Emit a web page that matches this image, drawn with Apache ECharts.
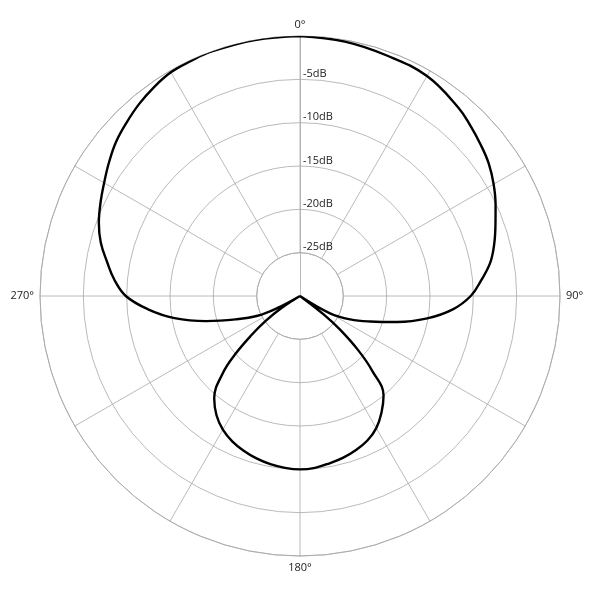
<!DOCTYPE html>
<html>
<head>
<meta charset="utf-8">
<script src="https://cdn.jsdelivr.net/npm/echarts@6/dist/echarts.min.js"></script>
<style>
  html, body { margin: 0; padding: 0; background: #fff; }
  #chart { width: 600px; height: 600px; }
</style>
</head>
<body>
<div id="chart"></div>
<script>
// polar response, angle clockwise from the front (0°), level in dB
const angles = [0, 10, 20, 30, 40, 45, 50, 55, 60, 65, 70, 75, 80, 85, 90, 95, 100, 105, 110, 115, 120, 124,
  128, 130, 133, 136, 140, 145, 150, 155, 160, 165, 170, 175, 180, 185, 190, 195, 200, 205, 210, 215, 220,
  225, 228, 231, 234, 237, 239, 242, 245, 250, 255, 260, 265, 270, 275, 280, 285, 290, 295, 300, 305, 310,
  315, 320, 325, 330, 335, 340, 350, 360];
const levels = [0, -0.2, -0.5, -0.7, -1.6, -2.2, -2.8, -3.4, -4.2, -5.1, -6.0, -6.8, -7.7, -9.0, -10.3, -12.3,
  -15.1, -18.4, -21.4, -23.6, -26.0, -30,
  -26.5, -24.0, -20.8, -18.0, -15.0, -13.6, -12.4, -11.6, -11.1, -10.7, -10.4, -10.1, -10.0, -10.1, -10.3,
  -10.6, -11.0, -11.5, -12.2, -13.2, -14.6, -17.4, -19.9, -22.7, -25.1, -27.5, -30,
  -27.0, -24.6, -22.1, -18.8, -15.3, -12.4, -9.9, -8.5, -7.4, -6.2, -5.3, -4.6, -3.9, -3.1, -2.3, -1.7,
  -1.1, -0.6, -0.2, -0.1, 0, 0, 0];
const ringLabels = [-25, -20, -15, -10, -5];

const gridColor = "#a8a8a8";
const font = "'Open Sans', 'DejaVu Sans', sans-serif";

const chart = echarts.init(document.getElementById("chart"));
chart.setOption({
  animation: false,
  backgroundColor: "#fff",
  polar: [
    { center: [300, 296], radius: [43.3, 260] },
    { center: [300, 296], radius: [0, 260] },
  ],
  angleAxis: [
    {
      polarIndex: 0,
      type: "value",
      min: 0,
      max: 360,
      interval: 30,
      startAngle: 90,
      clockwise: true,
      axisLine: { lineStyle: { color: gridColor, width: 0.8 } },
      axisTick: { show: false },
      splitLine: { lineStyle: { color: gridColor, width: 0.8 } },
      axisLabel: {
        color: "#222",
        fontSize: 11,
        fontFamily: font,
        margin: 6,
        formatter: function (v) {
          return v % 90 === 0 && v !== 360 ? v + "°" : "";
        },
      },
    },
    {
      polarIndex: 1,
      type: "value",
      min: 0,
      max: 360,
      startAngle: 90,
      clockwise: true,
      show: false,
    },
  ],
  radiusAxis: [
    {
      polarIndex: 0,
      type: "value",
      min: -25,
      max: 0,
      interval: 5,
      axisLine: { show: false },
      axisTick: { show: false },
      splitLine: { lineStyle: { color: gridColor, width: 0.8 } },
      axisLabel: {
        color: "#222",
        fontSize: 11,
        fontFamily: font,
        align: "left",
        verticalAlign: "bottom",
        margin: -3,
        formatter: function (v) {
          return ringLabels.indexOf(v) >= 0 ? v + "dB" : "";
        },
      },
    },
    {
      polarIndex: 1,
      type: "value",
      min: -30,
      max: 0,
      axisLine: { show: true, lineStyle: { color: gridColor, width: 0.8 } },
      axisTick: { show: false },
      axisLabel: { show: false },
      splitLine: { show: false },
    },
  ],
  series: [
    {
      type: "line",
      coordinateSystem: "polar",
      polarIndex: 1,
      data: angles.map((a, i) => [levels[i], a]),
      showSymbol: false,
      smooth: 0.4,
      lineStyle: { color: "#000", width: 2.4 },
      z: 10,
    },
  ],
});
</script>
</body>
</html>
